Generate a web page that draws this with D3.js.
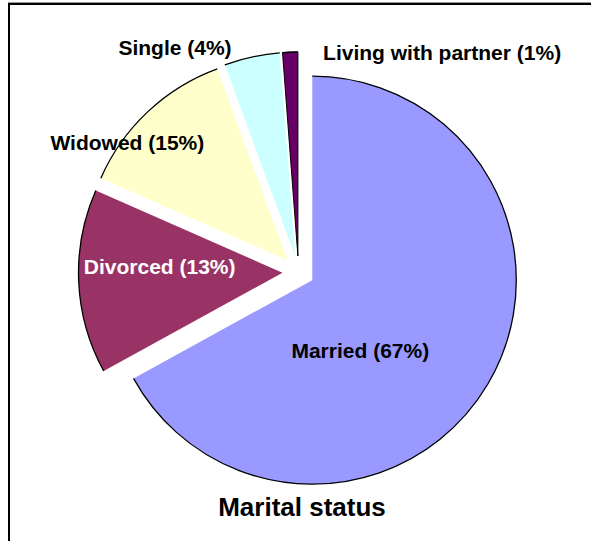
<!DOCTYPE html>
<html>
<head>
<meta charset="utf-8">
<script src="https://cdn.jsdelivr.net/npm/d3@7"></script>
<style>
  html, body { margin: 0; padding: 0; background: #fff; }
  svg { display: block; }
  text { font-family: "Liberation Sans", Arial, sans-serif; font-weight: bold; }
</style>
</head>
<body>
<script>
const categories = ["Married", "Divorced", "Widowed", "Single", "Living with partner"];
const values = [67, 14.6, 12.8, 4.4, 1.2];
const labels = ["Married (67%)", "Divorced (13%)", "Widowed (15%)", "Single (4%)", "Living with partner (1%)"];
const colors = ["#9999FF", "#993366", "#FFFFCC", "#CCFFFF", "#660066"];
const labelColors = ["#000", "#fff", "#000", "#000", "#000"];
const title = "Marital status";

// ---- layout ----
const W = 591, H = 541;
const cx = 298.5, cy = 272, R = 204, explode = 16;
// label placement: [angle deg clockwise from top, distance from slice apex]
const labelPolar = [[145.6, 85], [272.6, 123], [306.4, 199], [330.1, 241], [35.4, 249]];

const svg = d3.select("body").append("svg").attr("width", W).attr("height", H);

// frame
svg.append("line").attr("x1", 8).attr("x2", W).attr("y1", 2.5).attr("y2", 2.5).attr("stroke", "#999").attr("stroke-width", 1);
svg.append("line").attr("x1", 8).attr("x2", W).attr("y1", 4).attr("y2", 4).attr("stroke", "#000").attr("stroke-width", 2);
svg.append("line").attr("x1", 9).attr("x2", 9).attr("y1", 3).attr("y2", H).attr("stroke", "#000").attr("stroke-width", 2);

const pie = d3.pie().sort(null).value(d => d)(values);
const arc = d3.arc().innerRadius(0).outerRadius(R);

const g = svg.append("g").attr("transform", `translate(${cx},${cy})`);

const slices = g.selectAll("g.slice").data(pie).join("g")
  .attr("class", "slice")
  .attr("transform", d => {
    const m = (d.startAngle + d.endAngle) / 2;
    return `translate(${explode * Math.sin(m)},${-explode * Math.cos(m)})`;
  });

slices.append("path")
  .attr("d", arc)
  .attr("fill", (d, i) => colors[i])
  .attr("stroke", (d, i) => i === 4 ? "#000" : "none")
  .attr("stroke-width", 1);

// outer arc outline
slices.append("path")
  .attr("d", d => {
    const a0 = d.startAngle - Math.PI / 2, a1 = d.endAngle - Math.PI / 2;
    const p = d3.path();
    p.arc(0, 0, R, a0, a1, false);
    return p.toString();
  })
  .attr("fill", "none")
  .attr("stroke", "#000")
  .attr("stroke-width", 1.3);

// labels
slices.append("text")
  .attr("x", (d, i) => labelPolar[i][1] * Math.sin(labelPolar[i][0] * Math.PI / 180))
  .attr("y", (d, i) => -labelPolar[i][1] * Math.cos(labelPolar[i][0] * Math.PI / 180))
  .attr("dy", "0.35em")
  .attr("text-anchor", "middle")
  .attr("font-size", 21)
  .attr("fill", (d, i) => labelColors[i])
  .text((d, i) => labels[i]);

svg.append("text")
  .attr("x", 302).attr("y", 507)
  .attr("dy", "0.35em")
  .attr("text-anchor", "middle")
  .attr("font-size", 26)
  .attr("fill", "#000")
  .text(title);
</script>
</body>
</html>
